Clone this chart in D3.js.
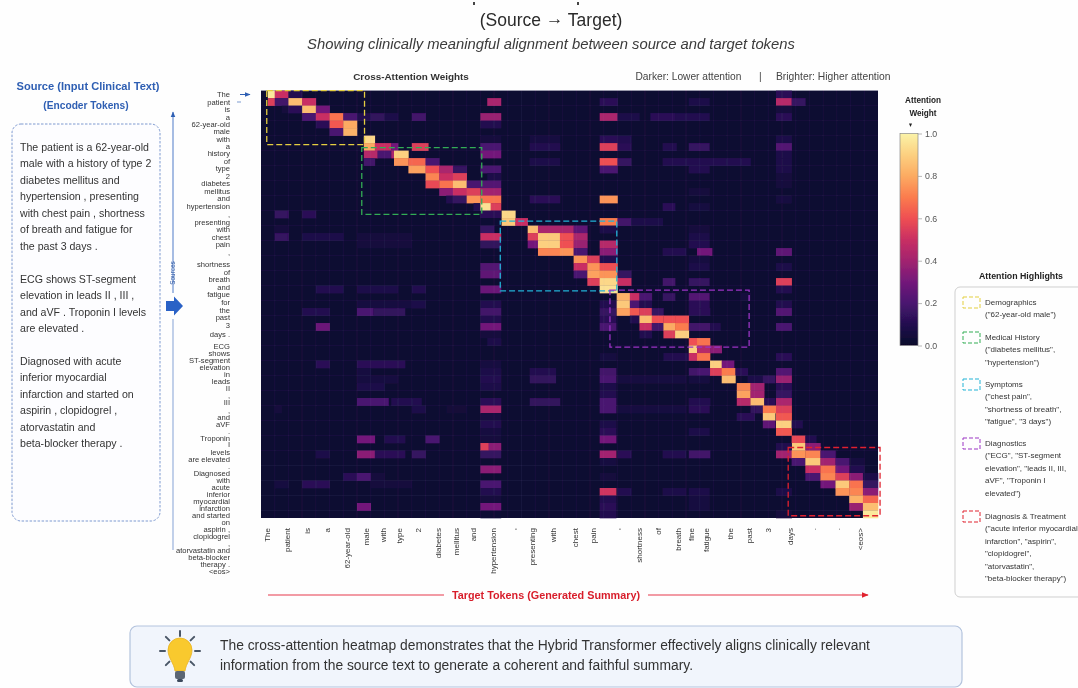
<!DOCTYPE html>
<html lang="en">
<head>
<meta charset="utf-8">
<title>Cross-Attention Heatmap</title>
<script src="https://d3js.org/d3.v7.min.js"></script>
<style>
  html, body { margin: 0; padding: 0; background: #fff; overflow: hidden; }
  text { font-family: "Liberation Sans", Arial, sans-serif; }
</style>
</head>
<body>
<script>
// source tokens and where they sit on the row axis (in row units)
const sourceTokens = ["The","patient","is","a","62-year-old","male","with","a","history","of","type","2","diabetes","mellitus","and","hypertension",",","presenting","with","chest","pain",",","shortness","of","breath","and","fatigue","for","the","past","3","days .","ECG","shows","ST-segment","elevation","in","leads","II",",","III",",","and","aVF",".","Troponin","I","levels","are elevated",".","Diagnosed","with","acute","inferior","myocardial","infarction","and started","on","aspirin ,","clopidogrel",",","atorvastatin and","beta-blocker","therapy .","<eos>"];
const sourcePos = [.45,1.5,2.45,3.5,4.45,5.4,6.45,7.4,8.35,9.4,10.35,11.4,12.35,13.4,14.35,15.4,16.55,17.55,18.5,19.55,20.5,21.55,23.15,24.2,25.15,26.2,27.15,28.2,29.3,30.2,31.3,32.5,34.1,35.04,35.98,36.92,37.86,38.8,39.74,40.7,41.64,42.58,43.52,44.46,45.4,46.34,47.24,48.18,49.12,50.06,51,51.94,52.88,53.82,54.76,55.7,56.64,57.58,58.52,59.46,60.4,61.34,62.28,63.22,64.16];

const targetTokens = ["The","patient","is","a","62-year-old","male","with","type","2","diabetes","mellitus","and","hypertension",",","presenting","with","chest","pain",",","shortness","of","breath","fine","fatigue","the","past","3","days",".",".","<eos>"];
const targetPos = [0.45,1.9,3.4,4.8,6.3,7.7,8.9,10.1,11.5,12.9,14.2,15.5,16.9,18.4,19.8,21.3,22.9,24.2,26,27.6,29,30.4,31.4,32.5,34.2,35.6,37,38.6,40.3,42,43.7];

const rowCount = 57;
const colCount = 45;
const baseWeight = 0.025;

// [row, from column, to column, weight]
const attentionCells = [
  [0,.5,1,.97],[0,1,2,.5],[0,2,3,.1],[0,37.56,38.7,.12],
  [1,.5,1,.55],[1,1,2,.18],[1,2,3,.85],[1,3,4,.5],[1,16.5,17.5,.42],[1,24.7,26,.12],[1,31.2,32.7,.08],[1,37.56,38.7,.45],[1,38.7,39.7,.15],
  [2,1.5,2,.05],[2,2,3,.12],[2,3,4,.85],[2,4,5,.3],[2,37.56,38.7,.05],
  [3,3,4,.2],[3,4,5,.5],[3,5,6,.68],[3,6,7,.2],[3,7,8,.1],[3,8,9,.14],[3,9,10,.08],[3,11,12,.18],[3,16,17.5,.38],[3,24.7,26,.42],[3,26,27.6,.08],[3,28.4,30.2,.12],[3,30.2,32.7,.1],[3,37.56,38.7,.12],
  [4,4,5,.12],[4,5,6,.62],[4,6,7,.8],[4,16,17.5,.1],
  [5,5,6,.2],[5,6,7,.82],
  [6,7.5,8.3,.92],[6,16,17.5,.05],[6,24.7,26,.12],[6,26,27,.1],[6,19.6,21.8,.06],[6,37.56,38.7,.08],
  [7,7.5,8.3,.8],[7,8.3,9.5,.5],[7,9.5,10,.3],[7,11,12.2,.55],[7,16,17.5,.2],[7,19.6,21.8,.1],[7,24.7,26,.55],[7,26,27,.12],[7,29.3,30.3,.1],[7,31.2,32.7,.15],[7,37.56,38.7,.22],
  [8,7.5,8.5,.45],[8,8.5,9.5,.2],[8,9.5,9.7,.42],[8,9.7,10.75,.9],[8,16,17.5,.3],[8,37.56,38.7,.08],
  [9,7.5,8.3,.18],[9,9.7,10.75,.75],[9,10.75,12,.65],[9,12,13,.2],[9,19.6,21.8,.08],[9,24.7,26,.6],[9,26,27,.15],[9,29.3,35.7,.1],[9,37.56,38.7,.08],
  [10,10.75,12,.78],[10,12,13,.6],[10,13,14,.42],[10,14,15,.15],[10,16,17.5,.2],[10,24.7,26,.2],[10,31.2,32.7,.1],[10,37.56,38.7,.08],
  [11,12,13,.72],[11,13,14,.5],[11,14,15,.55],[11,16.5,17.5,.08],[11,37.56,38.7,.05],
  [12,12,13,.58],[12,13,14,.68],[12,14,15,.85],[12,15,16,.2],[12,16,17.5,.22],[12,37.56,38.7,.05],
  [13,13,14,.35],[13,14,15,.5],[13,15,16,.55],[13,16,17.5,.4],[13,31.2,32.7,.05],
  [14,13.5,14,.1],[14,14,15,.15],[14,15,16,.75],[14,16,17.5,.68],[14,19.6,21.8,.12],[14,24.7,26,.75],[14,37.56,38.7,.06],
  [15,15.5,16,.1],[15,16,16.75,.95],[15,16.75,17.5,.55],[15,29.3,30.2,.12],[15,31.2,32.7,.06],
  [16,1,2,.15],[16,3,4,.12],[16,16,17.5,.12],[16,17.55,18.55,.92],
  [17,16,17.5,.03],[17,17.55,18.55,.88],[17,18.55,19.45,.5],[17,24.7,26,.7],[17,26,27,.18],[17,27,29.3,.08],
  [18,1,2,.05],[18,16,17,.15],[18,19.45,20.2,.85],[18,20.2,22.8,.42],[18,22.8,23.8,.25],[18,24.7,26,.08],[18,31.2,32.7,.05],
  [19,1,2,.15],[19,3,6,.08],[19,7,11,.05],[19,16,17.5,.5],[19,19.45,20.2,.55],[19,20.2,21.8,.88],[19,21.8,22.8,.6],[19,22.8,23.8,.42],[19,31.2,32.7,.08],
  [20,7,11,.05],[20,16,17.5,.14],[20,19.45,20.2,.3],[20,20.2,21.8,.9],[20,21.8,22.8,.6],[20,22.8,23.8,.38],[20,24.7,26,.45],[20,31.2,32.7,.1],
  [21,20.2,21.8,.72],[21,21.8,22.8,.75],[21,22.8,23.8,.2],[21,24.7,26,.35],[21,29.3,31,.1],[21,31.8,32.9,.3],[21,37.56,38.7,.25],
  [22,22.8,23.8,.75],[22,23.8,24.7,.55],[22,24.7,26,.1],[22,31.2,32.7,.06],
  [23,16,17.5,.22],[23,22.8,23.8,.5],[23,23.8,24.7,.75],[23,24.7,26,.6],[23,31.2,32.7,.08],[23,37.56,38.7,.08],
  [24,16,17.5,.25],[24,22.8,23.8,.2],[24,23.8,24.7,.78],[24,24.7,26,.75],[24,26,27,.15],
  [25,23.8,24.7,.55],[25,24.7,26,.92],[25,26,27,.5],[25,29.3,30.2,.18],[25,31.2,32.7,.15],[25,37.56,38.7,.55],
  [26,4,6,.1],[26,7,10,.08],[26,11,12,.1],[26,16,17.5,.28],[26,24.7,26,.95],[26,37.56,38.7,.1],
  [27,25.94,26.9,.82],[27,26.9,27.6,.5],[27,27.6,28.5,.2],[27,31.2,32.7,.22],[27,29.3,30.2,.15],[27,35,35.7,.05],
  [28,7,11,.06],[28,11,12,.08],[28,16,17.5,.1],[28,24.7,26,.1],[28,25.94,26.9,.88],[28,26.9,27.6,.2],[28,27.6,28.5,.1],[28,31.2,32.7,.12],[28,37.56,38.7,.1],
  [29,3,5,.1],[29,7,8.2,.2],[29,8.2,10.5,.14],[29,16,17.5,.18],[29,24.7,25.9,.15],[29,25.94,26.9,.78],[29,26.9,27.6,.62],[29,27.6,28.5,.55],[29,28.5,29.35,.15],[29,31.2,32.75,.12],[29,37.56,38.7,.22],
  [30,16,17.5,.1],[30,24.7,25.9,.12],[30,26.9,27.6,.1],[30,27.6,28.5,.85],[30,28.5,29.35,.6],[30,29.35,30.2,.6],[30,30.2,31.2,.6],
  [31,4,5,.28],[31,16,17.5,.3],[31,24.7,25.9,.2],[31,27.6,28.5,.5],[31,28.5,29.35,.18],[31,29.35,30.2,.8],[31,30.2,31.2,.7],[31,31.2,32.75,.18],[31,32.75,33.5,.1],[31,37.56,38.7,.2],
  [32,16,17.5,.05],[32,27.6,28.5,.1],[32,29.35,30.2,.55],[32,30.2,31.2,.9],
  [33,16.5,17.5,.08],[33,31.2,31.8,.6],[33,31.8,32.75,.68],
  [34,31.2,31.8,.9],[34,31.8,32.75,.45],[34,32.75,33.6,.35],
  [35,24.7,25.9,.06],[35,29.35,31.2,.1],[35,31.2,31.8,.5],[35,31.8,32.75,.68],[35,37.56,38.7,.12],
  [36,4,5,.12],[36,7,10.5,.12],[36,16,17.5,.06],[36,32.75,33.6,.9],[36,33.6,34.5,.3],
  [37,7,8,.06],[37,16,17.5,.08],[37,19.6,21.5,.1],[37,24.7,25.9,.18],[37,31.2,31.8,.18],[37,31.8,32.75,.2],[37,32.75,33.6,.55],[37,33.6,34.6,.7],[37,34.6,35.5,.12],[37,37.56,38.7,.22],
  [38,7,10,.06],[38,16,17.5,.1],[38,19.6,21.5,.14],[38,24.7,25.9,.2],[38,26,31,.06],[38,31.2,32.7,.06],[38,33.6,34.6,.85],[38,35.5,36.6,.08],[38,36.6,37.5,.15],[38,37.56,38.7,.38],
  [39,7,9,.08],[39,16,17.5,.08],[39,34.7,35.7,.72],[39,35.7,36.7,.4],[39,37.56,38.7,.12],[39,24.7,25.9,.08],
  [40,24.7,25.9,.1],[40,34.7,35.7,.78],[40,35.7,36.7,.4],[40,37.56,38.7,.15],
  [41,7,9.3,.2],[41,9.5,11.7,.1],[41,16,17.5,.12],[41,19.6,21.8,.14],[41,24.7,25.9,.2],[41,31.2,32.75,.1],[41,34.7,35.7,.45],[41,35.7,36.7,.85],[41,36.7,37.5,.12],[41,37.56,38.7,.42],
  [42,1,1.5,.05],[42,11,12,.08],[42,13.5,15,.04],[42,16,17.5,.42],[42,24.7,25.9,.2],[42,26,31,.06],[42,31.2,32.7,.12],[42,35.7,36.6,.14],[42,36.6,37.56,.7],[42,37.56,38.7,.55],
  [43,16,17.5,.06],[43,34.7,36,.12],[43,36.6,37.5,.88],[43,37.56,38.7,.62],
  [44,16,17.5,.1],[44,24.7,25.9,.08],[44,36.6,37.5,.25],[44,37.56,38.7,.9],[44,38.7,39.5,.1],
  [45,16,17.5,.06],[45,24.7,25.9,.12],[45,31.2,32.7,.08],[45,37.56,38.7,.62],
  [46,7,8.3,.3],[46,9,10.5,.1],[46,12,13,.2],[46,16,17.5,.05],[46,24.7,25.9,.3],[46,38.7,39.7,.58],[46,39.7,40.5,.1],
  [47,16,16.6,.55],[47,16.6,17.5,.35],[47,38.7,39.7,.88],[47,39.7,40.8,.35],[47,37.56,38.7,.1],
  [48,4,5,.08],[48,7,8.3,.35],[48,8.3,10.5,.12],[48,11,12,.15],[48,16,17.5,.15],[48,24.7,25.9,.4],[48,26,27,.12],[48,29.3,31,.1],[48,31.2,32.75,.18],[48,37.56,38.7,.4],[48,38.7,39.7,.75],[48,39.7,40.8,.72],[48,40.8,41.9,.2],
  [49,24.7,25.9,.06],[49,38.7,39.7,.2],[49,39.7,40.8,.88],[49,40.8,41.9,.4],[49,41.9,42.9,.2],[49,43,44,.06],
  [50,16,17.5,.35],[50,39.7,40.8,.5],[50,40.8,41.9,.68],[50,41.9,42.9,.3],[50,43,44,.1],
  [51,6,7,.12],[51,7,8,.2],[51,8,9,.05],[51,24.7,25.9,.05],[51,39.7,40.8,.2],[51,40.8,41.9,.72],[51,41.9,42.9,.55],[51,42.9,43.9,.35],[51,43.9,45,.08],
  [52,1,2,.06],[52,3,5,.12],[52,8,11,.05],[52,16,17.5,.2],[52,40.8,41.9,.3],[52,41.9,42.9,.88],[52,42.9,43.9,.68],[52,43.9,45,.15],
  [53,16,17.5,.1],[53,24.7,25.9,.52],[53,26,27,.1],[53,29.3,31,.08],[53,31.2,32.7,.08],[53,37.56,38.7,.08],[53,41.9,42.9,.75],[53,42.9,43.9,.72],[53,43.9,45,.35],
  [54,16,17.5,.05],[54,24.7,25.9,.1],[54,31.2,32.7,.06],[54,42.9,43.9,.82],[54,43.9,45,.65],
  [55,7,8,.3],[55,16,17.5,.3],[55,24.7,25.9,.12],[55,31.2,32.7,.06],[55,42.9,43.9,.38],[55,43.9,45,.85],
  [56,16,17.5,.03],[56,24.7,25.9,.1],[56,37.56,38.7,.05],[56,43.9,45,.97]
];

// colour ramp
const rampStops = [0,.1,.2,.3,.4,.5,.6,.7,.8,.9,1];
const rampColors = ["#08062a","#22104f","#4a1470","#73197a","#a2236f","#c92f63","#ef4f52","#fb7c4e","#fcab62","#fcd080","#fbf3a8"];
const barTicks = [0,.2,.4,.6,.8,1];

// dashed regions on the heatmap, in column / row units
const regionNames = ["Demographics","Medical History","Symptoms","Diagnostics","Diagnosis & Treatment"];
const regionColors = ["#e3cf3f","#33ad55","#22b3d6","#9b35c4","#e0232e"];
const regionX0 = [.42,7.35,17.45,25.45,38.45];
const regionX1 = [7.55,16.1,25.95,35.6,45.15];
const regionY0 = [0,7.6,17.4,26.6,47.6];
const regionY1 = [7.2,16.5,26.7,34.2,56.7];

const legendLines = [
  ["Demographics","(\"62-year-old male\")"],
  ["Medical History","(\"diabetes mellitus\",","\"hypertension\")"],
  ["Symptoms","(\"chest pain\",","\"shortness of breath\",","\"fatigue\", \"3 days\")"],
  ["Diagnostics","(\"ECG\", \"ST-segment","elevation\", \"leads II, III,","aVF\", \"Troponin I","elevated\")"],
  ["Diagnosis & Treatment","(\"acute inferior myocardial","infarction\", \"aspirin\",","\"clopidogrel\",","\"atorvastatin\",","\"beta-blocker therapy\")"]
];
const legendTop = [302,337,384,443,516];

const sourceParagraphs = [
  ["The patient is a 62-year-old","male with a history of type 2","diabetes mellitus and","hypertension , presenting","with chest pain , shortness","of breath and fatigue for","the past 3 days ."],
  ["ECG shows ST-segment","elevation in leads II , III ,","and aVF . Troponin I levels","are elevated ."],
  ["Diagnosed with acute","inferior myocardial","infarction and started on","aspirin , clopidogrel ,","atorvastatin and","beta-blocker therapy ."]
];
const paragraphTop = [147,279,361];

const W = 1078, H = 688;
const svg = d3.select("body").append("svg").attr("width", W).attr("height", H);
svg.append("rect").attr("width", W).attr("height", H).attr("fill", "#fefefe");

const defs = svg.append("defs");
const soften = defs.append("filter").attr("id", "soft")
  .attr("x", "-2%").attr("y", "-2%").attr("width", "104%").attr("height", "104%");
soften.append("feGaussianBlur").attr("stdDeviation", 0.6);
function arrowMarker(id, color, size) {
  defs.append("marker").attr("id", id).attr("viewBox", "0 0 10 10").attr("refX", 9).attr("refY", 5)
    .attr("markerWidth", size).attr("markerHeight", size).attr("markerUnits", "userSpaceOnUse")
    .attr("orient", "auto")
    .append("path").attr("d", "M0,1L10,5L0,9Z").attr("fill", color);
}
arrowMarker("arrBlue", "#2f66c4", 7);
arrowMarker("arrRed", "#e0232e", 7);
arrowMarker("arrNavy", "#2f5fb3", 6);

const root = svg.append("g").attr("filter", "url(#soft)");

// titles
const titleText = root.append("text").attr("x", 551).attr("y", 25.5).attr("text-anchor", "middle")
  .attr("font-size", 17.5).attr("fill", "#2b2b2b");
titleText.append("tspan").text("(Source ");
titleText.append("tspan").attr("dy", -2).text("\u2192");
titleText.append("tspan").attr("dy", 2).text(" Target)");
root.append("text").attr("x", 551).attr("y", 49).attr("text-anchor", "middle")
  .attr("font-size", 14.8).attr("font-style", "italic").attr("fill", "#3a3a3a")
  .text("Showing clinically meaningful alignment between source and target tokens");
[473, 577].forEach(function(x) {
  root.append("rect").attr("x", x).attr("y", 2).attr("width", 2).attr("height", 3).attr("fill", "#444");
});

// heatmap
const x = d3.scaleLinear().domain([0, colCount]).range([261, 878]);
const y = d3.scaleLinear().domain([0, rowCount]).range([90.6, 518]);
const color = d3.scaleLinear().domain(rampStops).range(rampColors).clamp(true);

const heat = root.append("g");
heat.append("rect").attr("x", x(0)).attr("y", y(0)).attr("width", x(colCount) - x(0)).attr("height", y(rowCount) - y(0))
  .attr("fill", color(baseWeight));
heat.selectAll("rect.cell").data(attentionCells).enter().append("rect")
  .attr("class", "cell")
  .attr("x", function(d) { return x(d[1]); })
  .attr("y", function(d) { return y(d[0]); })
  .attr("width", function(d) { return x(d[2]) - x(d[1]) + 0.3; })
  .attr("height", y(1) - y(0) + 0.3)
  .attr("fill", function(d) { return color(d[3]); });

// faint grid: every column, every second row
heat.selectAll("line.gv").data(d3.range(1, colCount)).enter().append("line")
  .attr("x1", x).attr("x2", x).attr("y1", y(0)).attr("y2", y(rowCount))
  .attr("stroke", "#b9a6d8").attr("stroke-opacity", .1).attr("stroke-width", .6);
heat.selectAll("line.gh").data(d3.range(2, rowCount, 2)).enter().append("line")
  .attr("y1", y).attr("y2", y).attr("x1", x(0)).attr("x2", x(colCount))
  .attr("stroke", "#b9a6d8").attr("stroke-opacity", .1).attr("stroke-width", .6);

// dashed region outlines
root.selectAll("rect.region").data(regionNames).enter().append("rect")
  .attr("class", "region")
  .attr("x", function(d, i) { return x(regionX0[i]); })
  .attr("y", function(d, i) { return y(regionY0[i]); })
  .attr("width", function(d, i) { return x(regionX1[i]) - x(regionX0[i]); })
  .attr("height", function(d, i) { return y(regionY1[i]) - y(regionY0[i]); })
  .attr("fill", "none")
  .attr("stroke", function(d, i) { return regionColors[i]; })
  .attr("stroke-width", 1.3).attr("stroke-dasharray", "6 3");

// source and target token labels
const sourceLabels = root.append("g").attr("font-size", 7.6).attr("fill", "#333");
sourceLabels.selectAll("text").data(sourceTokens).enter().append("text")
  .attr("x", 230).attr("text-anchor", "end").attr("dy", "0.35em")
  .attr("y", function(d, i) { return y(sourcePos[i]); })
  .text(function(d) { return d; });

const targetLabels = root.append("g").attr("font-size", 8).attr("fill", "#333");
targetLabels.selectAll("text").data(targetTokens).enter().append("text")
  .attr("text-anchor", "end").attr("dy", "0.35em")
  .attr("transform", function(d, i) { return "translate(" + x(targetPos[i]) + ",528) rotate(-90)"; })
  .text(function(d) { return d; });

// heatmap headings
root.append("text").attr("x", 411).attr("y", 80).attr("text-anchor", "middle")
  .attr("font-size", 9.9).attr("font-weight", "bold").attr("fill", "#333").text("Cross-Attention Weights");
root.append("text").attr("x", 635.5).attr("y", 80).attr("font-size", 10.2).attr("fill", "#444").text("Darker: Lower attention");
root.append("text").attr("x", 759).attr("y", 80).attr("font-size", 10.2).attr("fill", "#444").text("|");
root.append("text").attr("x", 776).attr("y", 80).attr("font-size", 10.3).attr("fill", "#444").text("Brighter: Higher attention");

// target axis arrow
root.append("line").attr("x1", 268).attr("x2", 444).attr("y1", 595).attr("y2", 595).attr("stroke", "#e6384a").attr("stroke-width", 1);
root.append("line").attr("x1", 648).attr("x2", 868).attr("y1", 595).attr("y2", 595).attr("stroke", "#e6384a").attr("stroke-width", 1).attr("marker-end", "url(#arrRed)");
root.append("text").attr("x", 546).attr("y", 599).attr("text-anchor", "middle")
  .attr("font-size", 10.8).attr("font-weight", "bold").attr("fill", "#d81f2c").text("Target Tokens (Generated Summary)");

// source axis arrow
root.append("line").attr("x1", 173).attr("x2", 173).attr("y1", 550).attr("y2", 319).attr("stroke", "#8fa9d8").attr("stroke-width", 1.1);
root.append("line").attr("x1", 173).attr("x2", 173).attr("y1", 293).attr("y2", 112).attr("stroke", "#5f86cc").attr("stroke-width", 1.1).attr("marker-end", "url(#arrNavy)");
root.append("text").attr("transform", "translate(175,273) rotate(-90)").attr("text-anchor", "middle")
  .attr("font-size", 6.4).attr("fill", "#24509f").text("Sources");
root.append("path").attr("d", "M166,301H174V296.5L183,306L174,315.5V311H166Z").attr("fill", "#2b62c6");
root.append("line").attr("x1", 240).attr("x2", 250).attr("y1", 94.5).attr("y2", 94.5).attr("stroke", "#2f5fb3").attr("stroke-width", 1).attr("marker-end", "url(#arrNavy)");
root.append("line").attr("x1", 237).attr("x2", 241).attr("y1", 102).attr("y2", 102).attr("stroke", "#7d9bd0").attr("stroke-width", 1);

// source panel
root.append("text").attr("x", 88).attr("y", 90).attr("text-anchor", "middle")
  .attr("font-size", 11.1).attr("font-weight", "bold").attr("fill", "#2f5fb3").text("Source (Input Clinical Text)");
root.append("text").attr("x", 86).attr("y", 109).attr("text-anchor", "middle")
  .attr("font-size", 10.2).attr("font-weight", "bold").attr("fill", "#2f5fb3").text("(Encoder Tokens)");
root.append("rect").attr("x", 12).attr("y", 124).attr("width", 148).attr("height", 397).attr("rx", 9)
  .attr("fill", "#fdfdff").attr("stroke", "#7f9ad0").attr("stroke-width", 1).attr("stroke-dasharray", "2.5 1.5");
const sourceBody = root.append("g").attr("font-size", 10.6).attr("fill", "#333");
sourceParagraphs.forEach(function(lines, p) {
  sourceBody.selectAll("text.p" + p).data(lines).enter().append("text")
    .attr("class", "p" + p).attr("x", 20).attr("dy", "0.35em")
    .attr("y", function(d, i) { return paragraphTop[p] + i * 16.55; })
    .text(function(d) { return d; });
});

// colour bar
const barY = d3.scaleLinear().domain([0, 1]).range([345.5, 133.5]);
const barGrad = defs.append("linearGradient").attr("id", "barGrad").attr("x1", 0).attr("x2", 0).attr("y1", 1).attr("y2", 0);
barGrad.selectAll("stop").data(rampStops).enter().append("stop")
  .attr("offset", function(d) { return d; })
  .attr("stop-color", function(d, i) { return rampColors[i]; });
root.append("rect").attr("x", 900).attr("y", barY(1)).attr("width", 18).attr("height", barY(0) - barY(1))
  .attr("fill", "url(#barGrad)").attr("stroke", "#8a8a8a").attr("stroke-width", .7);
const barAxis = root.append("g").attr("transform", "translate(918,0)")
  .call(d3.axisRight(barY).tickValues(barTicks).tickFormat(d3.format(".1f")).tickSize(4));
barAxis.select(".domain").remove();
barAxis.selectAll("line").attr("stroke", "#999").attr("stroke-width", .7);
barAxis.selectAll("text").attr("font-size", 8.8).attr("fill", "#555").attr("font-family", "Liberation Sans");
root.append("text").attr("x", 923).attr("y", 103).attr("text-anchor", "middle").attr("font-size", 8.2).attr("font-weight", "bold").attr("fill", "#222").text("Attention");
root.append("text").attr("x", 923).attr("y", 116).attr("text-anchor", "middle").attr("font-size", 8.2).attr("font-weight", "bold").attr("fill", "#222").text("Weight");
root.append("path").attr("d", "M909,123.5H912L910.5,127Z").attr("fill", "#222");

// legend
root.append("text").attr("x", 1021).attr("y", 279).attr("text-anchor", "middle")
  .attr("font-size", 8.8).attr("font-weight", "bold").attr("fill", "#222").text("Attention Highlights");
root.append("rect").attr("x", 955).attr("y", 287).attr("width", 140).attr("height", 310).attr("rx", 5)
  .attr("fill", "#fefefe").attr("stroke", "#cfcfcf").attr("stroke-width", 1);
const legend = root.selectAll("g.item").data(regionNames).enter().append("g").attr("class", "item");
legend.append("rect")
  .attr("x", 963).attr("width", 17).attr("height", 11)
  .attr("y", function(d, i) { return legendTop[i] - 5; })
  .attr("fill", "none").attr("stroke", function(d, i) { return regionColors[i]; })
  .attr("stroke-width", 1).attr("stroke-dasharray", "4 2");
legendLines.forEach(function(lines, k) {
  root.append("g").attr("font-size", 8).attr("fill", "#333").selectAll("text").data(lines).enter().append("text")
    .attr("x", 985).attr("dy", "0.35em")
    .attr("y", function(d, i) { return legendTop[k] + i * 12.45; })
    .text(function(d) { return d; });
});

// note at the bottom
root.append("rect").attr("x", 130).attr("y", 626).attr("width", 832).attr("height", 61).attr("rx", 7)
  .attr("fill", "#f1f5fc").attr("stroke", "#b3c3dd").attr("stroke-width", 1.2);
const bulb = root.append("g").attr("transform", "translate(180,651)");
const rayAngles = [-135,-90,-45,0,45,90,135];
bulb.selectAll("line").data(rayAngles).enter().append("line")
  .attr("x1", function(d) { return 15 * Math.sin(d * Math.PI / 180); }).attr("y1", function(d) { return -15 * Math.cos(d * Math.PI / 180); })
  .attr("x2", function(d) { return 20 * Math.sin(d * Math.PI / 180); }).attr("y2", function(d) { return -20 * Math.cos(d * Math.PI / 180); })
  .attr("stroke", "#4a5666").attr("stroke-width", 2).attr("stroke-linecap", "round");
bulb.append("path").attr("d", "M-12,-1A12,12 0 1 1 12,-1C12,7 6,12 5,20H-5C-6,12 -12,7 -12,-1Z").attr("fill", "#f9c92f").attr("stroke", "#eab320").attr("stroke-width", .8);
bulb.append("rect").attr("x", -5).attr("y", 20).attr("width", 10).attr("height", 8).attr("rx", 2).attr("fill", "#5b6673");
bulb.append("rect").attr("x", -3).attr("y", 28).attr("width", 6).attr("height", 3).attr("rx", 1.5).attr("fill", "#3c4a5c");
const noteLines = ["The cross-attention heatmap demonstrates that the Hybrid Transformer effectively aligns clinically relevant","information from the source text to generate a coherent and faithful summary."];
root.append("g").attr("font-size", 13.85).attr("fill", "#333").selectAll("text").data(noteLines).enter().append("text")
  .attr("x", 220).attr("y", function(d, i) { return 650 + i * 19.5; }).text(function(d) { return d; });
</script>
</body>
</html>
